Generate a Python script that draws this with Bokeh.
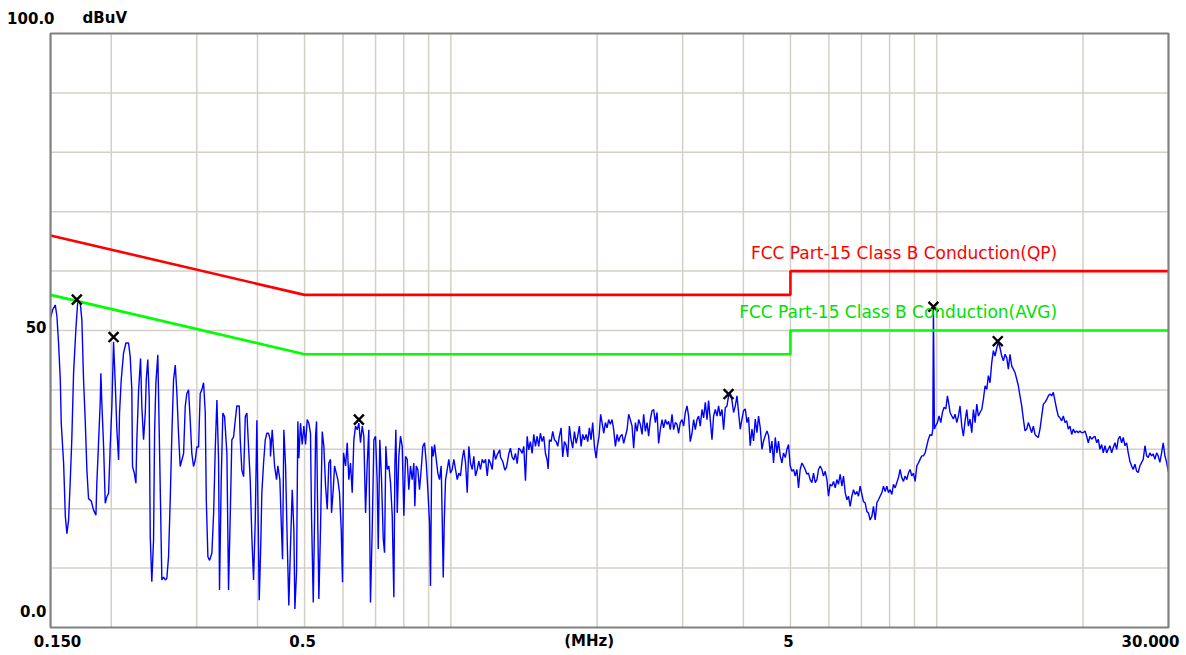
from bokeh.plotting import figure
from bokeh.models import Range1d, Label, ColumnDataSource
from bokeh.embed import file_html
from bokeh.resources import INLINE

# ---------------- data ----------------
freq_a = [0.1500, 0.1515, 0.1534, 0.1546, 0.1558, 0.1571, 0.1578, 0.1596, 0.1609, 0.1621,
          0.1634, 0.1647, 0.1659, 0.1673, 0.1691, 0.1707, 0.1727, 0.1740, 0.1754, 0.1768,
          0.1782, 0.1796, 0.1819, 0.1839, 0.1860, 0.1868, 0.1883, 0.1898, 0.1904, 0.1913,
          0.1929, 0.1944, 0.1959, 0.1975, 0.1990, 0.2006, 0.2022, 0.2039, 0.2054, 0.2071,
          0.2080, 0.2097, 0.2120, 0.2144, 0.2171, 0.2188, 0.2205, 0.2212, 0.2231, 0.2248,
          0.2258, 0.2277, 0.2298, 0.2312, 0.2331, 0.2350, 0.2361, 0.2378, 0.2394, 0.2406,
          0.2424, 0.2444, 0.2456, 0.2471, 0.2494, 0.2511, 0.2526, 0.2542, 0.2563, 0.2584,
          0.2603, 0.2624, 0.2645, 0.2666, 0.2687, 0.2709, 0.2730, 0.2751, 0.2773, 0.2795,
          0.2818, 0.2840, 0.2862, 0.2885, 0.2908, 0.2930, 0.2954, 0.2978, 0.3001, 0.3025,
          0.3049, 0.3072, 0.3098, 0.3123, 0.3138, 0.3162, 0.3187, 0.3222, 0.3249, 0.3275,
          0.3300, 0.3326, 0.3341, 0.3368, 0.3394, 0.3422, 0.3460, 0.3487, 0.3515, 0.3542,
          0.3571, 0.3600, 0.3627, 0.3669, 0.3686, 0.3714, 0.3745, 0.3775, 0.3804, 0.3834,
          0.3865, 0.3894, 0.3926, 0.3958, 0.3988, 0.4006, 0.4033, 0.4063, 0.4083, 0.4116,
          0.4150, 0.4181, 0.4215, 0.4248]
level_a = [52.1, 53.5, 54.3, 52.4, 47.9, 41.7, 34.4, 27.6, 18.7, 15.8,
           18.1, 24.8, 31.6, 42.8, 50.1, 55.1, 54.6, 51.8, 41.7, 34.9,
           26.5, 21.7, 21.3, 19.8, 18.9, 24.3, 31.0, 37.8, 42.8, 37.8,
           30.4, 20.9, 22.0, 22.6, 30.4, 37.2, 48.1, 40.8, 33.3, 28.2,
           36.1, 41.7, 46.2, 47.9, 47.9, 45.6, 40.0, 27.1, 26.0, 24.3,
           31.6, 40.0, 45.3, 37.2, 31.6, 36.1, 41.7, 45.1, 38.9, 15.3,
           7.7, 14.7, 32.7, 41.1, 45.9, 32.7, 20.9, 8.0, 8.5, 8.0,
           8.3, 11.9, 21.5, 32.7, 41.7, 44.2, 39.4, 32.7, 27.1, 28.2,
           29.3, 37.2, 39.4, 40.0, 34.9, 29.3, 27.1, 28.2, 30.4, 30.4,
           39.4, 40.0, 41.2, 36.1, 21.5, 11.9, 11.3, 12.5, 19.2, 30.4,
           38.3, 28.2, 6.3, 24.8, 36.1, 35.5, 29.3, 6.3, 18.7, 31.6,
           32.1, 34.9, 37.3, 37.3, 31.6, 26.5, 25.4, 35.5, 36.1, 30.4,
           24.8, 15.3, 8.0, 18.1, 34.9, 22.6, 4.6, 14.2, 22.6, 27.6,
           31.6, 32.7, 32.7, 31.6]

freq_b = [0.4254, 0.4289, 0.4337, 0.4378, 0.4405, 0.4447, 0.4476, 0.4504, 0.4532, 0.4569,
          0.4606, 0.4640, 0.4677, 0.4716, 0.4752, 0.4775, 0.4813, 0.4843, 0.4865, 0.4904,
          0.4944, 0.4983, 0.5023, 0.5063, 0.5102, 0.5142, 0.5167, 0.5210, 0.5242, 0.5267,
          0.5292, 0.5325, 0.5350, 0.5392, 0.5436, 0.5478, 0.5523, 0.5567, 0.5609, 0.5653,
          0.5681, 0.5727, 0.5763, 0.5810, 0.5854, 0.5900, 0.5948, 0.5985, 0.6014, 0.6072,
          0.6120, 0.6166, 0.6215, 0.6266, 0.6315, 0.6366, 0.6417, 0.6467, 0.6517, 0.6571,
          0.6621, 0.6675, 0.6729, 0.6779, 0.6811, 0.6833, 0.6889, 0.6944, 0.6999, 0.7055,
          0.7089, 0.7142, 0.7200, 0.7259, 0.7304, 0.7349, 0.7398, 0.7454, 0.7513, 0.7575,
          0.7633, 0.7670, 0.7706, 0.7757, 0.7815, 0.7877, 0.7942, 0.8003, 0.8068, 0.8133,
          0.8194, 0.8259, 0.8327, 0.8391, 0.8431, 0.8488, 0.8552, 0.8620, 0.8689, 0.8757,
          0.8829, 0.8900, 0.8967, 0.9039, 0.9081, 0.9138, 0.9200, 0.9257, 0.9332, 0.9402,
          0.9477, 0.9553, 0.9600, 0.9646, 0.9692, 0.9752, 0.9831, 0.9904, 0.9983, 1.0065,
          1.0143, 1.0226, 1.0308, 1.0386, 1.0468, 1.0554, 1.0636, 1.0722, 1.0808, 1.0890,
          1.0976, 1.1066, 1.1151, 1.1242, 1.1332, 1.1418, 1.1508, 1.1603, 1.1692, 1.1788,
          1.1883, 1.1972, 1.2067, 1.2166, 1.2260, 1.2360, 1.2459, 1.2611]
level_b = [28.8, 33.3, 27.2, 24.9, 27.2, 24.9, 17.7, 11.5, 33.3, 27.2,
           14.3, 3.7, 13.7, 23.2, 16.5, 3.1, 9.3, 34.7, 28.5, 34.4,
           30.8, 33.9, 30.8, 35.0, 34.4, 32.7, 18.8, 4.2, 18.2, 32.2,
           34.7, 16.5, 4.8, 16.5, 33.0, 30.5, 23.8, 19.9, 27.7, 28.3,
           19.3, 23.2, 27.2, 26.0, 24.9, 22.7, 16.5, 7.6, 29.4, 27.2,
           31.1, 24.9, 27.7, 22.7, 31.6, 33.9, 33.3, 34.4, 31.1, 33.9,
           32.2, 19.3, 27.7, 33.3, 14.9, 4.2, 16.5, 31.6, 32.2, 24.4,
           13.2, 31.6, 24.9, 14.9, 12.6, 30.5, 26.6, 27.2, 24.4, 18.8,
           5.1, 27.2, 33.3, 19.3, 28.8, 32.2, 30.5, 18.8, 28.8, 28.3,
           23.2, 27.2, 24.9, 27.7, 20.4, 27.2, 26.6, 23.2, 26.6, 30.5,
           31.1, 27.7, 23.2, 17.7, 7.0, 30.5, 28.8, 30.8, 28.3, 26.0,
           24.9, 27.2, 18.2, 8.4, 17.7, 24.9, 26.6, 28.3, 26.0, 26.6,
           28.3, 26.6, 24.9, 26.0, 25.5, 28.3, 29.9, 27.7, 22.7, 30.5,
           27.7, 26.6, 28.8, 25.5, 26.6, 28.0, 26.6, 28.3, 27.7, 28.3,
           25.5, 28.3, 27.7, 26.6, 29.9, 28.3, 29.1, 29.9]

freq_c = [1.2652, 1.2793, 1.2916, 1.3021, 1.3164, 1.3263, 1.3372, 1.3475, 1.3585, 1.3694,
          1.3797, 1.3906, 1.4021, 1.4128, 1.4243, 1.4358, 1.4465, 1.4580, 1.4700, 1.4813,
          1.4934, 1.5054, 1.5167, 1.5287, 1.5413, 1.5532, 1.5658, 1.5784, 1.5858, 1.5955,
          1.6083, 1.6208, 1.6340, 1.6472, 1.6596, 1.6728, 1.6863, 1.6993, 1.7132, 1.7271,
          1.7401, 1.7539, 1.7681, 1.7817, 1.7963, 1.8108, 1.8245, 1.8390, 1.8538, 1.8681,
          1.8833, 1.8985, 1.9133, 1.9281, 1.9437, 1.9587, 1.9747, 1.9907, 2.0028, 2.0188,
          2.0340, 2.0477, 2.0635, 2.0803, 2.0970, 2.1128, 2.1295, 2.1471, 2.1636, 2.1812,
          2.1988, 2.2152, 2.2328, 2.2512, 2.2685, 2.2869, 2.3053, 2.3226, 2.3410, 2.3603,
          2.3785, 2.3978, 2.4171, 2.4353, 2.4546, 2.4748, 2.4939, 2.5141, 2.5343, 2.5534,
          2.5736, 2.5948, 2.6148, 2.6360, 2.6572, 2.6772, 2.6984, 2.7207, 2.7416, 2.7639,
          2.7861, 2.8071, 2.8293, 2.8526, 2.8746, 2.8979, 2.9212, 2.9432, 2.9665, 2.9909,
          3.0139, 3.0384, 3.0629, 3.0859, 3.1103, 3.1359, 3.1601, 3.1857, 3.2113, 3.2355,
          3.2611, 3.2880, 3.3133, 3.3402, 3.3671, 3.3924, 3.4193, 3.4475, 3.4740, 3.5022,
          3.5304, 3.5570, 3.5851, 3.6146, 3.6424, 3.6720, 3.7015, 3.7293]
level_c = [28.7, 27.9, 26.5, 27.0, 29.3, 30.2, 28.7, 28.2, 29.3, 27.6,
           30.2, 29.9, 29.3, 30.5, 24.7, 32.2, 29.9, 31.3, 29.3, 32.5,
           30.5, 32.2, 30.5, 32.7, 31.3, 32.2, 29.3, 28.2, 26.7, 31.6,
           31.3, 33.0, 31.6, 31.3, 30.5, 32.2, 33.6, 28.7, 31.3, 30.7,
           28.7, 33.9, 31.6, 30.2, 33.0, 31.0, 32.2, 33.9, 30.5, 32.5,
           31.6, 32.5, 31.3, 33.6, 31.6, 34.5, 30.5, 28.5, 30.5, 32.2,
           35.9, 34.5, 32.7, 34.5, 33.6, 35.0, 34.2, 35.0, 33.3, 30.5,
           32.5, 31.3, 32.2, 32.5, 31.0, 32.2, 33.3, 35.9, 35.0, 33.9,
           30.2, 34.5, 33.0, 35.0, 34.2, 32.5, 35.9, 33.0, 34.5, 32.2,
           35.0, 36.5, 36.7, 34.5, 36.2, 31.0, 33.3, 35.0, 33.6, 35.0,
           34.2, 34.7, 33.3, 35.9, 33.3, 34.5, 34.2, 32.7, 34.5, 35.0,
           33.9, 36.2, 37.3, 35.6, 31.3, 32.7, 35.0, 33.3, 35.0, 35.6,
           33.9, 36.7, 35.3, 37.9, 35.0, 38.2, 35.0, 31.6, 35.6, 36.7,
           35.6, 37.3, 35.6, 36.7, 33.3, 37.0, 37.3, 39.0]

freq_d = [3.7589, 3.7899, 3.8191, 3.8501, 3.8811, 3.9102, 3.9412, 3.9737, 4.0043, 4.0368,
          4.0693, 4.0998, 4.1323, 4.1664, 4.1984, 4.2325, 4.2666, 4.2986, 4.3327, 4.3684,
          4.4020, 4.4378, 4.4735, 4.5071, 4.5428, 4.5802, 4.6155, 4.6530, 4.6904, 4.7257,
          4.7631, 4.8024, 4.8394, 4.8786, 4.9179, 4.9548, 4.9941, 5.0353, 5.0740, 5.1152,
          5.1563, 5.1951, 5.2362, 5.2794, 5.3200, 5.3632, 5.4063, 5.4470, 5.4901, 5.5354,
          5.5780, 5.6233, 5.6685, 5.7111, 5.7564, 5.8038, 5.8485, 5.8960, 5.9434, 5.9881,
          6.0355, 6.0853, 6.1321, 6.1819, 6.2316, 6.2784, 6.3282, 6.3804, 6.4295, 6.4817,
          6.5339, 6.5830, 6.6351, 6.6898, 6.7413, 6.7960, 6.8507, 6.9021, 6.9568, 7.0142,
          7.0682, 7.1255, 7.1829, 7.2369, 7.2942, 7.3543, 7.4109, 7.4710, 7.5312, 7.5878,
          7.6479, 7.7110, 7.7703, 7.8334, 7.8964, 7.9558, 8.0188, 8.0849, 8.1471, 8.2132,
          8.2793, 8.3415, 8.4076, 8.4769, 8.5421, 8.6115, 8.6808, 8.7460, 8.8153, 8.8880,
          8.9564, 9.0291, 9.1017, 9.1701, 9.2428, 9.3190, 9.3907, 9.4669, 9.5431, 9.6148,
          9.6910, 9.7709, 9.8179, 9.8461, 9.8931, 9.9589, 10.034, 10.114, 10.195, 10.276,
          10.358, 10.443, 10.522, 10.605]
level_d = [39.6, 38.2, 36.2, 37.3, 39.0, 36.2, 33.4, 35.1, 36.5, 36.8,
           34.5, 35.4, 30.6, 33.4, 31.4, 35.1, 32.8, 35.6, 33.7, 30.0,
           31.4, 32.3, 33.1, 32.3, 29.4, 31.4, 27.7, 32.0, 29.4, 31.4,
           28.9, 27.7, 29.4, 28.6, 30.0, 30.8, 27.2, 26.3, 26.6, 25.5,
           26.6, 23.5, 26.6, 27.7, 27.2, 26.6, 25.8, 26.0, 24.9, 24.4,
           26.0, 24.4, 24.9, 26.6, 27.2, 26.6, 25.5, 26.3, 24.9, 22.1,
           24.1, 23.8, 24.6, 23.5, 24.9, 24.1, 25.8, 23.8, 25.5, 22.7,
           21.5, 22.1, 20.4, 22.1, 23.2, 22.4, 22.9, 22.1, 23.8, 22.4,
           21.2, 21.0, 19.5, 19.3, 18.1, 18.7, 20.4, 18.1, 21.0, 21.5,
           22.1, 22.7, 23.8, 22.9, 23.8, 22.7, 23.2, 22.4, 24.1, 23.5,
           24.4, 25.2, 26.6, 25.2, 24.6, 25.5, 24.9, 26.0, 26.6, 25.5,
           26.0, 24.6, 27.2, 27.7, 28.3, 28.9, 28.9, 29.4, 30.6, 31.7,
           32.5, 32.3, 33.4, 53.8, 33.4, 34.0, 34.5, 35.6, 34.5, 36.2,
           37.1, 36.8, 39.0, 37.3]

freq_e = [10.654, 10.742, 10.824, 10.912, 11.000, 11.082, 11.170, 11.262, 11.349, 11.441,
          11.533, 11.620, 11.712, 11.809, 11.900, 11.996, 12.093, 12.183, 12.280, 12.381,
          12.476, 12.578, 12.679, 12.774, 12.875, 12.981, 13.081, 13.187, 13.294, 13.394,
          13.500, 13.611, 13.716, 13.827, 13.938, 14.043, 14.154, 14.271, 14.381, 14.497,
          14.614, 14.724, 14.840, 14.962, 15.078, 15.200, 15.322, 15.438, 15.560, 15.688,
          15.809, 15.938, 16.066, 16.187, 16.315, 16.450, 16.577, 16.711, 16.846, 16.973,
          17.106, 17.247, 17.380, 17.521, 17.662, 17.794, 17.935, 18.083, 18.222, 18.370,
          18.518, 18.657, 18.805, 18.960, 19.105, 19.261, 19.416, 19.562, 19.717, 19.880,
          20.032, 20.195, 20.357, 20.510, 20.673, 20.843, 21.003, 21.174, 21.344, 21.504,
          21.675, 21.854, 22.022, 22.201, 22.379, 22.547, 22.726, 22.913, 23.090, 23.277,
          23.465, 23.641, 23.828, 24.025, 24.210, 24.406, 24.602, 24.787, 24.984, 25.190,
          25.384, 25.590, 25.796, 25.990, 26.195, 26.411, 26.614, 26.830, 27.046, 27.249,
          27.465, 27.691, 27.905, 28.131, 28.357, 28.570, 28.797, 29.034, 29.258, 29.495,
          29.732, 30.000]
level_e = [36.2, 35.6, 35.1, 35.9, 34.5, 35.6, 37.3, 33.9, 32.2, 34.8,
           36.7, 33.9, 35.1, 32.8, 36.7, 34.5, 37.6, 35.6, 36.2, 36.7,
           38.4, 40.7, 40.1, 42.4, 41.2, 44.6, 46.6, 45.7, 47.1, 48.0,
           47.1, 45.7, 44.9, 46.0, 45.4, 43.5, 46.0, 44.0, 43.5, 42.9,
           41.8, 40.7, 39.0, 37.3, 35.1, 33.1, 33.4, 34.5, 33.7, 32.8,
           33.9, 32.5, 32.2, 32.0, 33.4, 35.6, 37.6, 37.9, 38.4, 39.0,
           39.3, 39.0, 39.6, 38.1, 36.7, 35.6, 35.3, 34.8, 35.6, 34.5,
           34.8, 33.4, 33.9, 32.5, 33.4, 32.8, 33.1, 32.8, 33.1, 32.8,
           32.8, 33.1, 32.2, 31.1, 32.2, 31.7, 32.0, 32.2, 31.1, 31.7,
           30.0, 30.8, 29.4, 30.6, 29.4, 30.0, 30.6, 29.4, 30.3, 31.1,
           30.0, 31.7, 32.2, 31.1, 32.0, 30.6, 31.1, 29.4, 28.0, 27.2,
           26.6, 27.5, 26.3, 26.1, 27.2, 27.8, 28.3, 30.6, 28.9, 28.6,
           29.4, 28.9, 29.2, 28.3, 29.4, 28.9, 27.8, 29.4, 31.1, 28.9,
           27.8, 26.1]

# limit lines (FCC Part 15 class B conducted)
limit_freq = [0.15, 0.5, 5.0, 5.0, 30.0]
qp_limit = [66, 56, 56, 60, 60]
avg_limit = [56, 46, 46, 50, 50]

# peak markers
peak_freq = [0.1699, 0.2022, 0.6467, 3.729, 9.846, 13.356]
peak_level = [55.2, 48.9, 35.0, 39.3, 54.0, 48.2]

# axis extents, grid and tick values
f_min, f_max = 0.15, 30.0
db_min, db_max = 0.0, 100.0
x_grid = [0.2, 0.3, 0.4, 0.5, 0.6, 0.7, 0.8, 0.9, 1, 2, 3, 4, 5, 6, 7, 8, 9, 10, 20]
y_grid = [10, 20, 30, 40, 50, 60, 70, 80, 90]

freq = freq_a + freq_b + freq_c + freq_d + freq_e
level = level_a + level_b + level_c + level_d + level_e

# ---------------- figure ----------------
# The drawing frame spans the whole canvas; the plot box (0.15-30 MHz, 0-100 dBuV)
# is drawn inside it so that the surrounding tick texts can be placed freely.
p = figure(x_axis_type="log",
           x_range=Range1d(0.11833, 31.755), y_range=Range1d(-4.21, 105.56),
           frame_width=1180, frame_height=652,
           min_border_left=0, min_border_right=0, min_border_top=0, min_border_bottom=0,
           output_backend="svg", toolbar_location=None)
p.xaxis.visible = False
p.yaxis.visible = False
p.xgrid.visible = False
p.ygrid.visible = False
p.background_fill_color = "white"
p.border_fill_color = "white"
p.outline_line_color = None

grid_color = "#D4D0C8"
p.segment(x0=x_grid, x1=x_grid, y0=[db_min] * len(x_grid), y1=[db_max] * len(x_grid),
          line_color=grid_color, line_width=1.5)
p.segment(x0=[f_min] * len(y_grid), x1=[f_max] * len(y_grid), y0=y_grid, y1=y_grid,
          line_color=grid_color, line_width=1.5)

src = ColumnDataSource(dict(f=freq, v=level))
p.line("f", "v", source=src, line_color="#0000FF", line_width=1.4)

p.line(limit_freq, qp_limit, line_color="#FF0000", line_width=2.6)
p.line(limit_freq, avg_limit, line_color="#00FF00", line_width=2.6)

p.scatter(peak_freq, peak_level, marker="x", size=14, line_color="black", line_width=2.4)

# plot box
p.quad(left=[f_min], right=[f_max], bottom=[db_min], top=[db_max],
       fill_color=None, line_color="#808080", line_width=2.2)

# limit labels
p.add_layout(Label(x=17.7, y=60, y_offset=18, text="FCC Part-15 Class B Conduction(QP)",
                   text_font="DejaVu Sans", text_font_size="17px", text_color="#FF0000",
                   text_align="right", text_baseline="middle"))
p.add_layout(Label(x=17.7, y=50, y_offset=19, text="FCC Part-15 Class B Conduction(AVG)",
                   text_font="DejaVu Sans", text_font_size="17px", text_color="#00E000",
                   text_align="right", text_baseline="middle"))

# axis texts
def tick(x, y, text, xo, yo, align):
    p.add_layout(Label(x=x, y=y, x_offset=xo, y_offset=yo, text=text,
                       text_font="DejaVu Sans", text_font_size="15px", text_font_style="bold",
                       text_color="black", text_align=align, text_baseline="middle"))

tick(f_min, db_max, "100.0", 4, 16, "right")
tick(f_min, db_max, "dBuV", 32, 16, "left")
tick(f_min, 50, "50", -4, 4, "right")
tick(f_min, db_min, "0.0", -4, 16, "right")
tick(f_min, db_min, "0.150", 7, -14, "center")
tick(0.5, db_min, "0.5", -2, -14, "center")
tick(2.0, db_min, "(MHz)", -8, -14, "center")
tick(5.0, db_min, "5", -2, -14, "center")
tick(f_max, db_min, "30.000", -18, -14, "center")

open("out.html", "w").write(file_html(p, INLINE))
